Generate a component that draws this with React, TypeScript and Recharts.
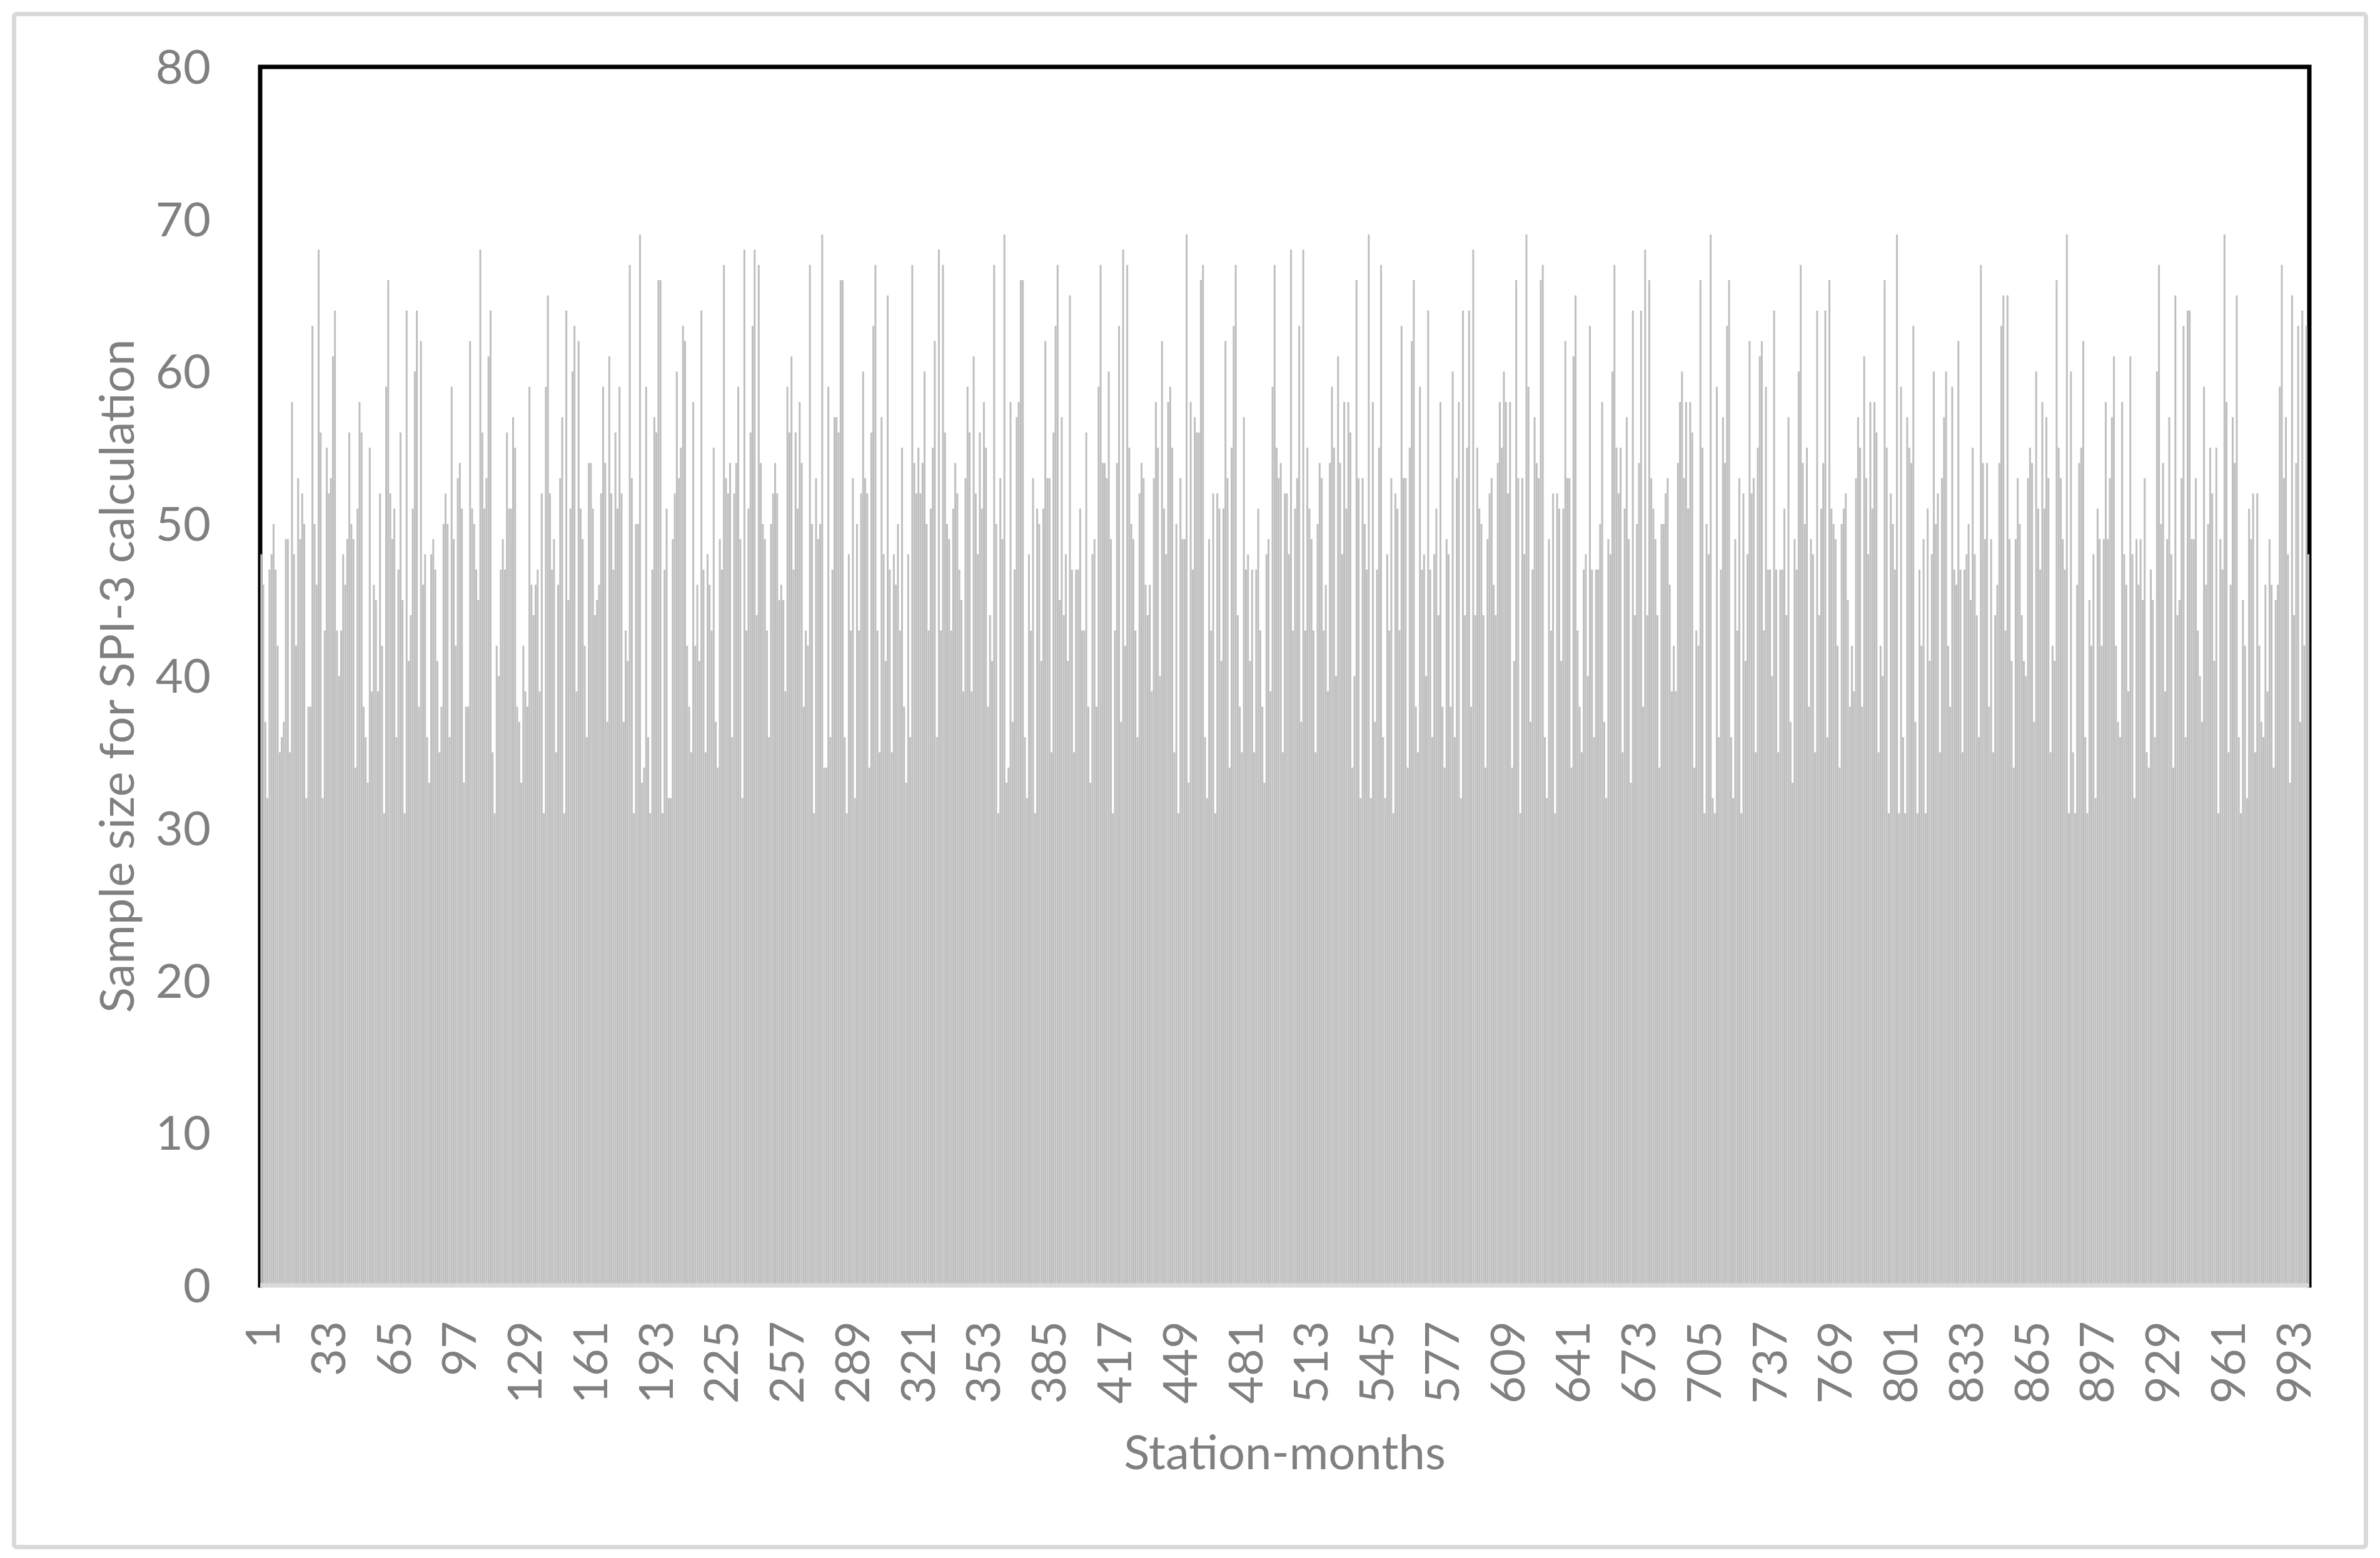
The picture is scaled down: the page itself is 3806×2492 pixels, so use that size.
import React from 'react'
import { BarChart, Bar, XAxis, YAxis, ReferenceArea } from 'recharts'

// sample sizes, one block per ~100 station-months
const block1 = [48,46,37,32,47,48,50,47,42,35,36,37,49,49,35,58,48,42,53,49,52,50,32,38,38,63,50,46,68,56,32,43,55,52,53,61,64,43,40,43,48,46,49,56,50,49,34,51,58,56,38,36,33,55,39,46,45,39,52,42,31,59,66,52,49,51,36,47,56,45,31,64,41,44,51,60,64,38,62,46,48,36,33,48,49,47,41,35,38,50,52,50,36,59,49,42,53,54,51]
const block2 = [33,38,38,62,51,50,47,45,68,56,51,53,61,64,35,31,42,40,47,49,47,56,51,51,57,55,38,37,33,42,39,38,59,46,44,46,47,39,52,31,59,65,52,47,49,35,46,53,57,31,64,45,51,60,63,39,62,51,49,42,36,54,54,51,44,45,46,52,59,54,37,61,52,47,56,51,59,52,37,43,41,67,53,31,50,50,69,33,34,59,36,31,47,57,56,66,66,31,47,51,32]
const block3 = [32,49,52,60,53,55,63,62,42,38,35,58,42,46,41,64,47,35,48,46,43,55,37,34,49,47,67,53,52,54,36,52,54,59,49,32,68,43,51,56,63,68,44,67,54,50,49,43,36,50,52,54,52,45,46,45,39,59,56,61,47,56,51,58,54,38,43,42,67,50,31,53,49,50,69,34,34,59,36,47,57,57,56,66,66,36,31,48,43,53,32,50,43,52,60,53,52,34,56,63,67]
const block4 = [43,35,57,48,41,65,47,35,48,46,50,43,55,38,33,48,36,67,54,52,55,52,54,60,50,43,51,55,62,36,68,43,67,56,50,49,43,51,54,52,47,45,39,53,59,56,39,61,52,48,56,51,58,55,38,44,41,67,50,31,53,49,69,33,34,58,37,47,57,58,66,66,36,32,48,43,53,31,51,50,41,51,62,53,53,35,56,63,67,45,57,44,48,41,65,47,35,47,47,51,43]
const block5 = [43,56,38,33,48,49,38,59,67,54,54,53,60,49,31,43,54,63,37,68,42,67,55,50,49,43,36,52,54,53,46,44,46,39,53,58,55,40,62,51,48,58,59,55,35,50,31,53,49,49,69,33,58,47,57,56,56,66,67,36,32,49,43,52,31,52,51,41,51,62,53,34,55,63,67,44,38,35,57,47,48,41,47,35,47,51,43,38,33,48,49,39,59,67,55,53,54,35,52,52,48]
const block6 = [68,43,51,53,63,37,68,43,55,51,49,43,35,50,54,53,43,46,39,54,59,55,40,61,54,48,58,51,58,56,34,40,66,53,32,53,50,47,69,32,58,37,47,55,67,36,32,48,43,53,31,52,51,43,63,53,53,34,55,62,66,38,35,59,47,48,40,64,47,36,48,51,44,58,38,34,49,48,38,60,36,53,58,32,64,44,55,64,38,68,44,55,51,50,44,34,49,52,53,46,44]
const block7 = [54,58,55,60,58,52,58,34,41,66,53,31,53,48,69,59,37,47,57,54,53,66,67,36,32,49,43,52,31,52,51,41,51,62,53,53,34,61,65,43,38,35,47,48,40,63,47,36,47,47,50,58,37,32,49,48,60,67,55,52,55,35,51,57,49,33,64,44,50,54,64,38,68,44,66,53,51,49,44,34,50,50,52,53,46,39,42,39,54,58,60,53,58,51,58,56,34,43,42,66]
const block8 = [55,31,50,48,69,32,31,59,36,47,57,54,63,66,36,32,49,43,53,31,52,41,48,62,52,53,35,55,61,62,43,59,47,47,40,64,47,35,47,47,51,44,57,37,33,49,47,60,67,54,50,55,38,49,48,35,64,44,51,54,64,36,66,51,50,49,42,34,50,51,52,45,38,42,39,53,57,55,38,61,53,48,58,51,58,56,35,42,40,66,55,31,52,50,47,69,31,59,36,31,57]
const block9 = [55,54,63,37,31,47,42,49,31,51,41,48,60,50,52,35,53,57,60,42,38,59,47,46,62,47,35,47,48,50,45,55,48,44,36,67,54,49,54,38,49,35,44,46,54,63,65,43,65,49,41,34,49,53,50,44,41,40,53,55,54,37,60,51,47,58,51,57,53,35,42,41,66,55,53,49,47,69,31,60,35,31,46,54,55,62,36,31,45,42,48,32,51,49,42,49,58,49,53,57,61]
const block10 = [42,37,36,58,48,46,39,61,48,32,49,46,49,45,53,35,34,47,45,36,60,67,50,54,39,49,57,48,34,65,44,45,53,63,36,64,64,49,49,53,43,40,37,59,46,50,55,52,41,55,31,49,47,69,58,35,46,57,54,65,36,31,45,42,32,51,49,52,35,52,42,37,36,46,39,49,46,34,45,46,59,67,53,57,48,33,65,44,54,63,37,64,42,63,48]

const sampleSizes = [...block1, ...block2, ...block3, ...block4, ...block5, ...block6, ...block7, ...block8, ...block9, ...block10]
const stationMonths = sampleSizes.map((_, i) => String(i + 1))
const yTicks = [0, 10, 20, 30, 40, 50, 60, 70, 80]

const data = stationMonths.map((m, i) => ({ month: m, n: sampleSizes[i] }))

const FONT = 'Lato, "Liberation Sans", Arial, sans-serif'
const GREY = '#808080'
const FS = 76

// plot box size, used to leave the bottom edge of the frame undrawn
const PLOT_W = 3277
const PLOT_H = 1949

function StationTick(props: any) {
  const { x, y, payload } = props
  return (
    <text
      x={x}
      y={y}
      transform={`rotate(-90 ${x} ${y})`}
      textAnchor="end"
      dominantBaseline="central"
      fill={GREY}
      fontSize={FS}
      fontFamily={FONT}
    >
      {payload.value}
    </text>
  )
}

function YTitle(props: any) {
  const vb = props.viewBox || { x: 0, y: 107, width: 416, height: 1949 }
  const cx = vb.x + 184
  const cy = vb.y + vb.height / 2
  return (
    <text x={cx} y={cy} transform={`rotate(-90 ${cx} ${cy})`} textAnchor="middle" dominantBaseline="central" fill={GREY} fontSize={FS} fontFamily={FONT}>
      Sample size for SPI-3 calculation
    </text>
  )
}

function XTitle(props: any) {
  const vb = props.viewBox || { x: 416, y: 2056, width: 3277, height: 436 }
  return (
    <text x={vb.x + vb.width / 2} y={vb.y + 264} textAnchor="middle" dominantBaseline="central" fill={GREY} fontSize={FS} fontFamily={FONT}>
      Station-months
    </text>
  )
}

export default function App() {
  return (
    <div style={{ position: 'absolute', left: 0, top: 0, width: 3806, height: 2492, background: '#fff' }}>
      <div
        style={{
          position: 'absolute',
          left: 19,
          top: 19,
          width: 3768,
          height: 2459,
          border: '7px solid #d9d9d9',
          borderRadius: 8,
          boxSizing: 'border-box',
        }}
      />
      <div style={{ position: 'absolute', left: 0, top: 0 }}>
        <BarChart
          width={3806}
          height={2492}
          data={data}
          margin={{ top: 107, right: 113, bottom: 0, left: 0 }}
          barCategoryGap="10%"
        >
          <XAxis
            dataKey="month"
            interval={31}
            tickLine={false}
            tickSize={0}
            tickMargin={57}
            height={436}
            axisLine={{ stroke: '#d9d9d9', strokeWidth: 7 }}
            tick={<StationTick />}
            label={<XTitle />}
          />
          <YAxis
            domain={[0, 80]}
            ticks={yTicks}
            width={416}
            tickLine={false}
            tickSize={0}
            tickMargin={79}
            axisLine={false}
            tick={{ fill: GREY, fontSize: FS, fontFamily: FONT }}
            label={<YTitle />}
          />
          <Bar dataKey="n" fill="#bfbfbf" isAnimationActive={false} />
          <ReferenceArea
            y1={0}
            y2={80}
            fill="none"
            stroke="#000"
            strokeWidth={7}
            strokeLinecap="square"
            strokeDasharray={`${PLOT_W + PLOT_H} ${PLOT_W} ${PLOT_H}`}
            ifOverflow="visible"
          />
        </BarChart>
      </div>
    </div>
  )
}
